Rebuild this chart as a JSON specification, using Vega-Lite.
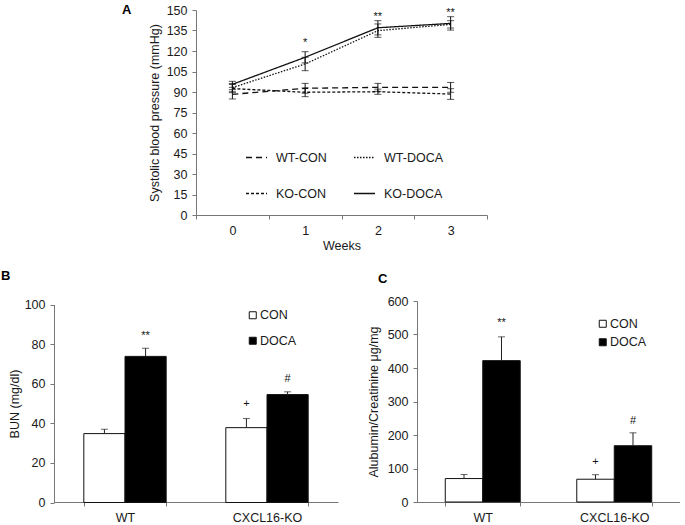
{
  "$schema": "https://vega.github.io/schema/vega-lite/v6.json",
  "background": "white",
  "padding": {"left": 1, "top": 4, "right": 0, "bottom": 0},
  "bounds": "flush",
  "spacing": 86,
  "config": {
    "font": "Liberation Sans",
    "view": {"stroke": null},
    "axis": {
      "labelFont": "Liberation Sans", "labelFontSize": 12.5, "labelColor": "#1a1a1a", "labelOverlap": false,
      "titleFont": "Liberation Sans", "titleFontSize": 12.5, "titleFontWeight": "normal", "titleColor": "#1a1a1a",
      "domainColor": "#777777", "tickColor": "#777777", "tickSize": 4, "grid": false, "labelPadding": 5
    },
    "legend": {"labelFont": "Liberation Sans", "labelFontSize": 12.5, "labelColor": "#1a1a1a"},
    "title": {"font": "Liberation Sans", "fontSize": 13, "fontWeight": "bold", "anchor": "start", "color": "#000000", "frame": "group"}
  },
  "datasets": {
    "bp": [
      {"week": "0", "group": "WT-CON", "bp": 88.3, "lo": 84.9, "hi": 91.7},
      {"week": "1", "group": "WT-CON", "bp": 92.7, "lo": 89.1, "hi": 96.3},
      {"week": "2", "group": "WT-CON", "bp": 93.4, "lo": 90.5, "hi": 96.3},
      {"week": "3", "group": "WT-CON", "bp": 93.4, "lo": 89.8, "hi": 97.0},
      {"week": "0", "group": "KO-CON", "bp": 92.5, "lo": 89.5, "hi": 95.5},
      {"week": "1", "group": "KO-CON", "bp": 89.8, "lo": 86.6, "hi": 93.0},
      {"week": "2", "group": "KO-CON", "bp": 90.2, "lo": 88.3, "hi": 92.1},
      {"week": "3", "group": "KO-CON", "bp": 88.5, "lo": 84.6, "hi": 92.4},
      {"week": "0", "group": "WT-DOCA", "bp": 93.2, "lo": 90.2, "hi": 96.2},
      {"week": "1", "group": "WT-DOCA", "bp": 110.5, "lo": 105.6, "hi": 115.4},
      {"week": "2", "group": "WT-DOCA", "bp": 134.9, "lo": 130.0, "hi": 139.8},
      {"week": "3", "group": "WT-DOCA", "bp": 139.5, "lo": 136.8, "hi": 142.2},
      {"week": "0", "group": "KO-DOCA", "bp": 95.6, "lo": 93.4, "hi": 97.8},
      {"week": "1", "group": "KO-DOCA", "bp": 115.4, "lo": 111.3, "hi": 119.5},
      {"week": "2", "group": "KO-DOCA", "bp": 137.0, "lo": 131.8, "hi": 142.2},
      {"week": "3", "group": "KO-DOCA", "bp": 140.2, "lo": 135.3, "hi": 145.1}
    ],
    "annA": [
      {"week": "1", "label": "*", "y": 123.5},
      {"week": "2", "label": "**", "y": 142.6},
      {"week": "3", "label": "**", "y": 145.9}
    ],
    "bun": [
      {"genotype": "WT", "treatment": "CON", "value": 34.8, "hi": 37.0},
      {"genotype": "WT", "treatment": "DOCA", "value": 73.8, "hi": 77.9},
      {"genotype": "CXCL16-KO", "treatment": "CON", "value": 37.8, "hi": 42.4},
      {"genotype": "CXCL16-KO", "treatment": "DOCA", "value": 54.5, "hi": 55.9}
    ],
    "annB": [
      {"genotype": "WT", "treatment": "DOCA", "label": "**", "y": 82.4},
      {"genotype": "CXCL16-KO", "treatment": "CON", "label": "+", "y": 48.1},
      {"genotype": "CXCL16-KO", "treatment": "DOCA", "label": "#", "y": 60.9}
    ],
    "acr": [
      {"genotype": "WT", "treatment": "CON", "value": 70, "hi": 82},
      {"genotype": "WT", "treatment": "DOCA", "value": 422, "hi": 493},
      {"genotype": "CXCL16-KO", "treatment": "CON", "value": 68, "hi": 81.5},
      {"genotype": "CXCL16-KO", "treatment": "DOCA", "value": 168, "hi": 206.5}
    ],
    "annC": [
      {"genotype": "WT", "treatment": "DOCA", "label": "**", "y": 524},
      {"genotype": "CXCL16-KO", "treatment": "CON", "label": "+", "y": 111},
      {"genotype": "CXCL16-KO", "treatment": "DOCA", "label": "#", "y": 234}
    ]
  },
  "vconcat": [
    {
      "width": 433, "height": 205,
      "title": {"text": "A", "dx": 68, "dy": 17},
      "data": {"name": "bp"},
      "layer": [
        {
          "mark": {"type": "line", "strokeWidth": 1.3, "color": "#111111"},
          "encoding": {
            "x": {"field": "week", "type": "nominal", "scale": {"paddingInner": 0, "paddingOuter": 0, "range": [142, 433]},
                  "axis": {"title": "Weeks", "labelAngle": 0, "tickBand": "extent", "titlePadding": 3}},
            "y": {"field": "bp", "type": "quantitative", "scale": {"domain": [0, 150], "nice": false},
                  "axis": {"values": [0, 15, 30, 45, 60, 75, 90, 105, 120, 135, 150], "labelOverlap": false, "labelSeparation": -40, "title": "Systolic blood pressure (mmHg)", "titlePadding": 5, "offset": -142}},
            "strokeDash": {"field": "group", "type": "nominal",
              "scale": {"domain": ["WT-CON", "WT-DOCA", "KO-CON", "KO-DOCA"], "range": [[6, 4], [1.5, 1.5], [3, 2], [1, 0]]},
              "legend": {"orient": "none", "legendX": 191, "legendY": 136, "columns": 2, "direction": "horizontal", "title": null,
                         "symbolType": "stroke", "symbolSize": 441, "symbolStrokeColor": "#111111", "symbolStrokeWidth": 1.3,
                         "labelOffset": 8, "columnPadding": 24, "rowPadding": 18, "labelFontSize": 12.5}}
          }
        },
        {
          "mark": {"type": "rule", "color": "#111111", "strokeWidth": 1},
          "encoding": {
            "x": {"field": "week", "type": "nominal"},
            "y": {"field": "lo", "type": "quantitative",
                  "axis": {"values": [0, 15, 30, 45, 60, 75, 90, 105, 120, 135, 150], "labelOverlap": false, "labelSeparation": -40, "title": "Systolic blood pressure (mmHg)", "titlePadding": 5, "offset": -142}},
            "y2": {"field": "hi"}
          }
        },
        {
          "mark": {"type": "tick", "size": 7, "thickness": 1, "color": "#111111"},
          "encoding": {"x": {"field": "week", "type": "nominal"},
            "y": {"field": "lo", "type": "quantitative",
                  "axis": {"values": [0, 15, 30, 45, 60, 75, 90, 105, 120, 135, 150], "labelOverlap": false, "labelSeparation": -40, "title": "Systolic blood pressure (mmHg)", "titlePadding": 5, "offset": -142}}}
        },
        {
          "mark": {"type": "tick", "size": 7, "thickness": 1, "color": "#111111"},
          "encoding": {"x": {"field": "week", "type": "nominal"},
            "y": {"field": "hi", "type": "quantitative",
                  "axis": {"values": [0, 15, 30, 45, 60, 75, 90, 105, 120, 135, 150], "labelOverlap": false, "labelSeparation": -40, "title": "Systolic blood pressure (mmHg)", "titlePadding": 5, "offset": -142}}}
        },
        {
          "data": {"name": "annA"},
          "mark": {"type": "text", "fontSize": 11, "baseline": "alphabetic", "color": "#111111"},
          "encoding": {"x": {"field": "week", "type": "nominal"},
            "y": {"field": "y", "type": "quantitative",
                  "axis": {"values": [0, 15, 30, 45, 60, 75, 90, 105, 120, 135, 150], "labelOverlap": false, "labelSeparation": -40, "title": "Systolic blood pressure (mmHg)", "titlePadding": 5, "offset": -142}},
            "text": {"field": "label"}}
        }
      ]
    },
    {
      "hconcat": [
        {
          "width": 284, "height": 201,
          "title": {"text": "B", "dx": -53, "dy": -12},
          "data": {"name": "bun"},
          "layer": [
            {
              "mark": {"type": "bar", "stroke": "#111111", "strokeWidth": 1},
              "encoding": {
                "x": {"field": "genotype", "type": "nominal", "sort": ["WT", "CXCL16-KO"], "scale": {"paddingInner": 0.42, "paddingOuter": 0.21},
                      "axis": {"title": null, "labelAngle": 0, "tickBand": "extent"}},
                "xOffset": {"field": "treatment", "type": "nominal", "sort": ["CON", "DOCA"], "scale": {"paddingInner": 0, "paddingOuter": 0}},
                "y": {"field": "value", "type": "quantitative", "scale": {"domain": [0, 100], "nice": false, "range": [201.5, 3.5]},
                      "axis": {"values": [0, 20, 40, 60, 80, 100], "labelOverlap": false, "title": "BUN  (mg/dl)", "titlePadding": 3}},
                "fill": {"field": "treatment", "type": "nominal", "scale": {"domain": ["CON", "DOCA"], "range": ["white", "black"]},
                  "legend": {"orient": "none", "legendX": 192.5, "legendY": 8, "title": null, "symbolType": "square", "symbolSize": 49,
                             "symbolStrokeColor": "#111111", "symbolStrokeWidth": 1, "labelOffset": 1, "rowPadding": 12.5}}
              }
            },
            {
              "mark": {"type": "rule", "color": "#222222", "strokeWidth": 1},
              "encoding": {
                "x": {"field": "genotype", "type": "nominal", "sort": ["WT", "CXCL16-KO"]},
                "xOffset": {"field": "treatment", "type": "nominal", "sort": ["CON", "DOCA"]},
                "y": {"field": "value", "type": "quantitative"}, "y2": {"field": "hi"}
              }
            },
            {
              "mark": {"type": "tick", "size": 7, "thickness": 1, "color": "#222222"},
              "encoding": {
                "x": {"field": "genotype", "type": "nominal", "sort": ["WT", "CXCL16-KO"]},
                "xOffset": {"field": "treatment", "type": "nominal", "sort": ["CON", "DOCA"]},
                "y": {"field": "hi", "type": "quantitative"}
              }
            },
            {
              "data": {"name": "annB"},
              "mark": {"type": "text", "fontSize": 11, "baseline": "alphabetic", "color": "#111111"},
              "encoding": {
                "x": {"field": "genotype", "type": "nominal", "sort": ["WT", "CXCL16-KO"]},
                "xOffset": {"field": "treatment", "type": "nominal", "sort": ["CON", "DOCA"]},
                "y": {"field": "y", "type": "quantitative"}, "text": {"field": "label"}
              }
            }
          ]
        },
        {
          "width": 263, "height": 201,
          "title": {"text": "C", "dx": -39, "dy": -5},
          "data": {"name": "acr"},
          "layer": [
            {
              "mark": {"type": "bar", "stroke": "#111111", "strokeWidth": 1},
              "encoding": {
                "x": {"field": "genotype", "type": "nominal", "sort": ["WT", "CXCL16-KO"], "scale": {"paddingInner": 0.43, "paddingOuter": 0.215},
                      "axis": {"title": null, "labelAngle": 0, "tickBand": "extent"}},
                "xOffset": {"field": "treatment", "type": "nominal", "sort": ["CON", "DOCA"], "scale": {"paddingInner": 0, "paddingOuter": 0}},
                "y": {"field": "value", "type": "quantitative", "scale": {"domain": [0, 600], "nice": false},
                      "axis": {"values": [0, 100, 200, 300, 400, 500, 600], "labelOverlap": false, "labelSeparation": -40, "title": "Alubumin/Creatinine μg/mg", "titlePadding": 7}},
                "fill": {"field": "treatment", "type": "nominal", "scale": {"domain": ["CON", "DOCA"], "range": ["white", "black"]},
                  "legend": {"orient": "none", "legendX": 179.5, "legendY": 16.5, "title": null, "symbolType": "square", "symbolSize": 49,
                             "symbolStrokeColor": "#111111", "symbolStrokeWidth": 1, "labelOffset": 1, "rowPadding": 5.5}}
              }
            },
            {
              "mark": {"type": "rule", "color": "#222222", "strokeWidth": 1},
              "encoding": {
                "x": {"field": "genotype", "type": "nominal", "sort": ["WT", "CXCL16-KO"]},
                "xOffset": {"field": "treatment", "type": "nominal", "sort": ["CON", "DOCA"]},
                "y": {"field": "value", "type": "quantitative",
                      "axis": {"values": [0, 100, 200, 300, 400, 500, 600], "labelOverlap": false, "labelSeparation": -40, "title": "Alubumin/Creatinine μg/mg", "titlePadding": 7}},
                "y2": {"field": "hi"}
              }
            },
            {
              "mark": {"type": "tick", "size": 7, "thickness": 1, "color": "#222222"},
              "encoding": {
                "x": {"field": "genotype", "type": "nominal", "sort": ["WT", "CXCL16-KO"]},
                "xOffset": {"field": "treatment", "type": "nominal", "sort": ["CON", "DOCA"]},
                "y": {"field": "hi", "type": "quantitative",
                      "axis": {"values": [0, 100, 200, 300, 400, 500, 600], "labelOverlap": false, "labelSeparation": -40, "title": "Alubumin/Creatinine μg/mg", "titlePadding": 7}}
              }
            },
            {
              "data": {"name": "annC"},
              "mark": {"type": "text", "fontSize": 11, "baseline": "alphabetic", "color": "#111111"},
              "encoding": {
                "x": {"field": "genotype", "type": "nominal", "sort": ["WT", "CXCL16-KO"]},
                "xOffset": {"field": "treatment", "type": "nominal", "sort": ["CON", "DOCA"]},
                "y": {"field": "y", "type": "quantitative",
                      "axis": {"values": [0, 100, 200, 300, 400, 500, 600], "labelOverlap": false, "labelSeparation": -40, "title": "Alubumin/Creatinine μg/mg", "titlePadding": 7}},
                "text": {"field": "label"}
              }
            }
          ]
        }
      ],
      "spacing": 79,
      "bounds": "flush",
      "resolve": {
        "scale": {"x": "independent", "y": "independent", "fill": "independent", "xOffset": "independent"},
        "legend": {"fill": "independent"}
      }
    }
  ],
  "resolve": {
    "scale": {"x": "independent", "y": "independent"}
  }
}
